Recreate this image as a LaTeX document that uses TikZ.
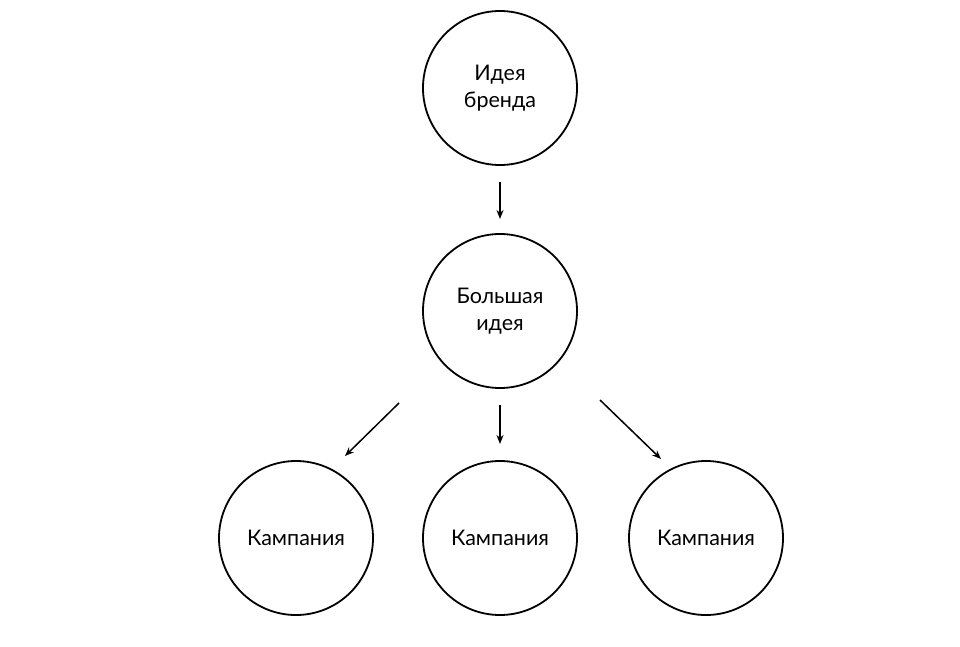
\documentclass[tikz,border=0pt]{standalone}
\usepackage{fontspec}
\setmainfont{Lato}
\usetikzlibrary{arrows.meta}
\begin{document}
\begin{tikzpicture}[x=1pt,y=-1pt,
  bubble/.style={circle,draw,line width=1.8pt,minimum size=154pt,inner sep=0pt,align=center,font=\fontsize{21.5}{27}\selectfont},
  arr/.style={line width=1.5pt,-{Stealth[length=9pt,width=7pt]}}]
\useasboundingbox (0,0) rectangle (960,646);
\node[bubble] (idea) at (500,88) {Идея\\бренда};
\node[bubble] (big) at (500,311) {Большая\\идея};
\node[bubble] (c1) at (296,538) {Кампания};
\node[bubble] (c2) at (500,538) {Кампания};
\node[bubble] (c3) at (706,538) {Кампания};
\coordinate (a1s) at (500,182); \coordinate (a1e) at (500,219);
\coordinate (a2s) at (500,405); \coordinate (a2e) at (500,444);
\coordinate (a3s) at (399,403); \coordinate (a3e) at (345,456);
\coordinate (a4s) at (600,400); \coordinate (a4e) at (661,459);
\draw[arr] (a1s) -- (a1e);
\draw[arr] (a2s) -- (a2e);
\draw[arr] (a3s) -- (a3e);
\draw[arr] (a4s) -- (a4e);
\end{tikzpicture}
\end{document}
